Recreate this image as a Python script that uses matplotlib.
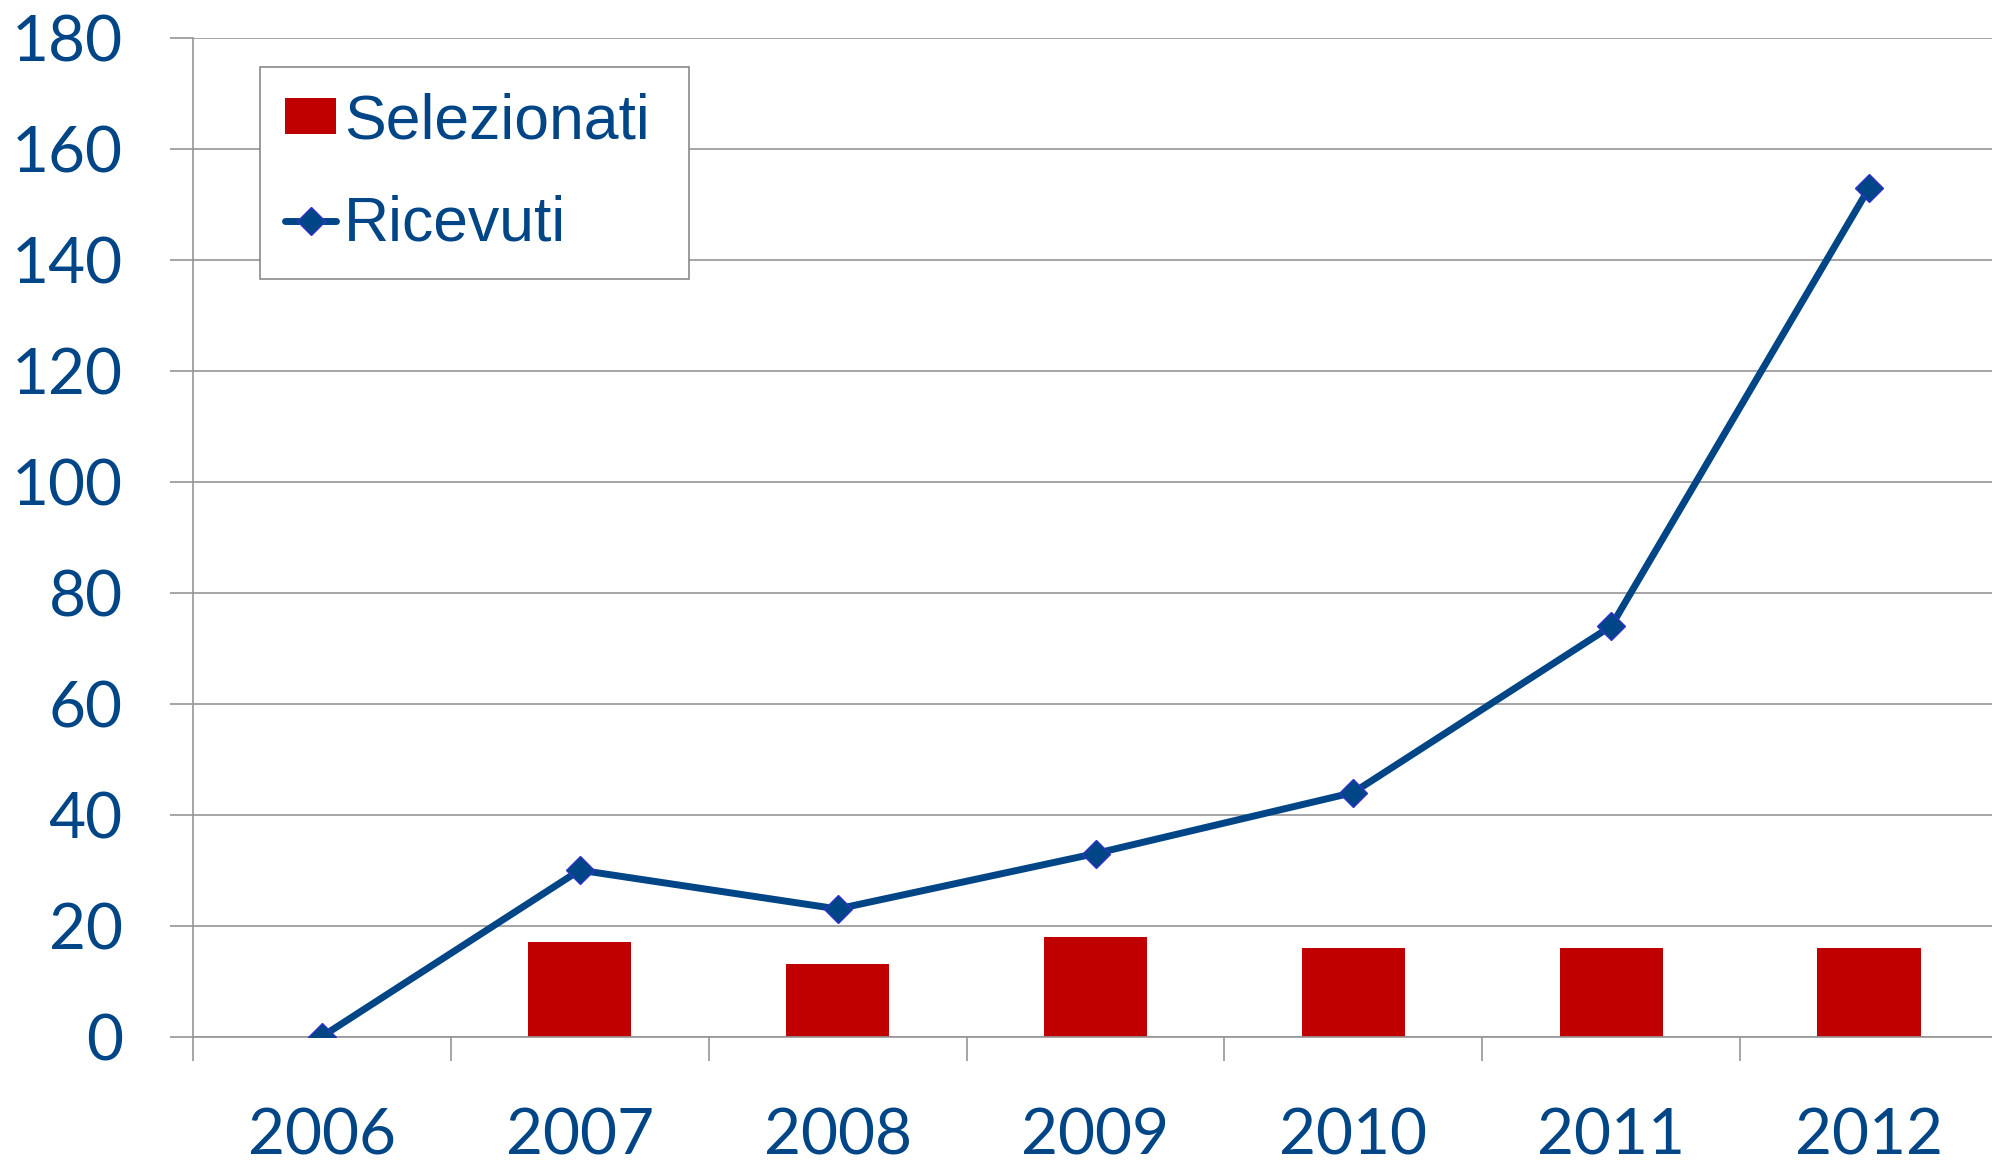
import numpy as np
import matplotlib
matplotlib.use("Agg")
import matplotlib.pyplot as plt

# data
years = ["2006", "2007", "2008", "2009", "2010", "2011", "2012"]
selezionati = [0, 17, 13, 18, 16, 16, 16]
ricevuti = [0, 30, 23, 33, 44, 74, 153]

BLUE = "#004586"
RED = "#c00000"
GRID = "#969696"

fig = plt.figure(figsize=(19.92, 11.62), dpi=100)
ax = fig.add_axes([0.0969, 0.108, 0.9061, 0.967 - 0.108])

x = np.arange(len(years))
bars = ax.bar(x, selezionati, width=0.4, color=RED, zorder=2, label="Selezionati")
line, = ax.plot(x, ricevuti, color=BLUE, lw=5, marker="D", markersize=14,
                markerfacecolor=BLUE, markeredgecolor="#3333cc", markeredgewidth=1,
                solid_capstyle="round", zorder=3, label="Ricevuti")

ax.set_xlim(-0.5, len(years) - 0.5)
ax.set_ylim(0, 180)
ax.set_yticks(range(0, 181, 20))
ax.yaxis.grid(True, color=GRID, lw=1.2, zorder=0)
ax.set_axisbelow(True)

# category boundaries as major ticks, labels on minor ticks
ax.set_xticks(np.arange(-0.5, len(years), 1.0))
ax.set_xticklabels([])
ax.set_xticks(x, minor=True)
ax.set_xticklabels(years, minor=True)
ax.tick_params(axis="x", which="major", length=17.4, width=1.2, color=GRID)
ax.tick_params(axis="x", which="minor", length=0, pad=51, labelsize=46,
               labelcolor=BLUE)
ax.tick_params(axis="y", length=16.6, width=1.2, color=GRID, pad=34,
               labelsize=46, labelcolor=BLUE)
for lab in ax.get_xticklabels(minor=True) + ax.get_yticklabels():
    lab.set_family("Lato")

for s in ["top", "right"]:
    ax.spines[s].set_visible(False)
for s in ["left", "bottom"]:
    ax.spines[s].set_color(GRID)
    ax.spines[s].set_linewidth(1.2)

leg = ax.legend([bars, line], ["Selezionati", "Ricevuti"],
                loc="upper left", bbox_to_anchor=(0.1305, 0.7616, 0.2154, 0.1807),
                bbox_transform=fig.transFigure, mode="expand", borderaxespad=0,
                prop={"family": "Liberation Sans", "size": 45}, labelcolor=BLUE,
                handlelength=0.82, handleheight=0.51, handletextpad=0.12,
                borderpad=0.40, labelspacing=0.70, numpoints=1,
                fancybox=False, framealpha=1)
leg.get_frame().set_edgecolor("#808080")
leg.get_frame().set_linewidth(1.1)

fig.savefig("out.png", dpi=100)
